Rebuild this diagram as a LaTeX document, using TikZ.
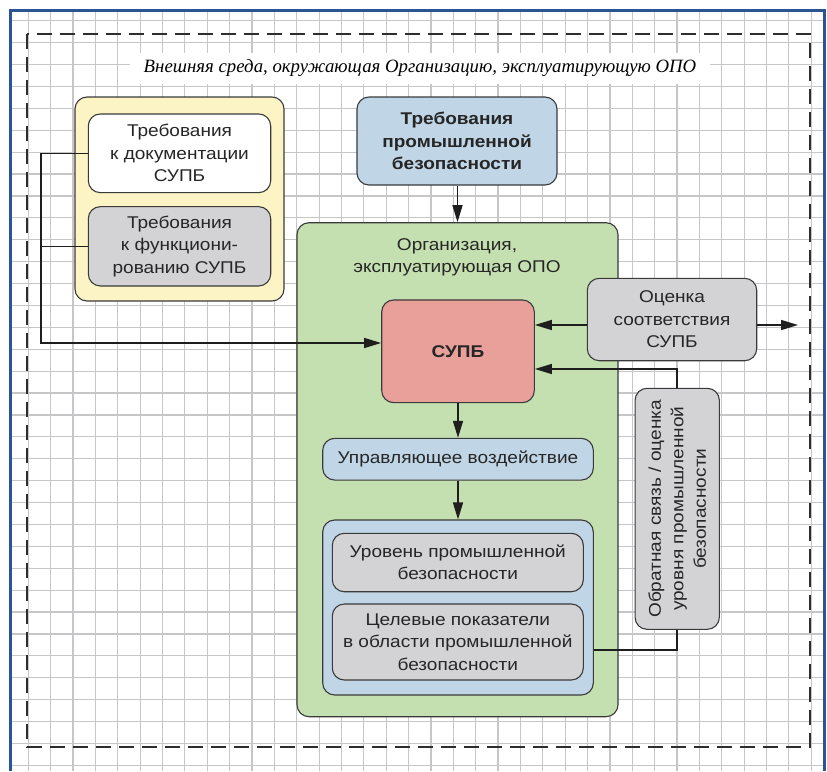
\documentclass[tikz,border=0pt]{standalone}
\usepackage{fontspec}
\setmainfont{Liberation Sans}[FakeStretch=1.12]
\newfontfamily\titlefont{Liberation Serif}
\usetikzlibrary{arrows.meta,calc}
\definecolor{framecol}{HTML}{2B5592}
\definecolor{gridcol}{HTML}{C6C6C8}
\definecolor{bordercol}{HTML}{3A3A3A}
\definecolor{yellowfill}{HTML}{FCF4C4}
\definecolor{greenfill}{HTML}{C5E0B0}
\definecolor{bluefill}{HTML}{C0D5E5}
\definecolor{grayfill}{HTML}{D3D3D6}
\definecolor{redfill}{HTML}{E9A09B}
\definecolor{linecol}{HTML}{1E1E1E}
\tikzset{
  boxst/.style={draw=bordercol, line width=1.1pt, rounded corners=12pt, inner sep=0pt},
  txt/.style={font=\fontsize{17}{22.5}\selectfont, align=center, text=black!85},
  conn/.style={draw=linecol, line width=1.5pt},
  arr/.style={conn, -{Triangle[length=17pt,width=10pt]}},
  dashline/.style={draw=black!82, line width=2pt, dash pattern=on 15pt off 8pt},
}
\begin{document}
\begin{tikzpicture}[x=1pt,y=-1pt]
\useasboundingbox (0,0) rectangle (827,771);
% grid
\begin{scope}
\clip (10,10) rectangle (824,771);
\foreach \i in {0,...,36} {
  \draw[gridcol, line width=1.2pt] ({28.3+\i*22.37},10) -- ({28.3+\i*22.37},771);
}
\foreach \j in {0,...,35} {
  \draw[gridcol, line width=1.2pt] (10,{20.7+\j*21.9}) -- (824,{20.7+\j*21.9});
}
\end{scope}
% frame
\draw[framecol, line width=3pt] (10,771) -- (10,10) -- (824,10) -- (824,771);
% dashed environment
\draw[dashline] (27,34) rectangle (810,747);
\node[fill=white, minimum width=580pt, minimum height=31pt, inner sep=0pt,
      font=\titlefont\itshape\fontsize{18.8}{21}\selectfont] (env) at (420,68.5)
  {Внешняя среда, окружающая Организацию, эксплуатирующую ОПО};

% left group
\node[boxst, fill=yellowfill, minimum width=209pt, minimum height=204pt] (grp) at (179.5,199) {};
\node[boxst, fill=white, minimum width=182.4pt, minimum height=78.7pt, txt] (doc) at (179.5,153.3)
  {Требования\\к документации\\СУПБ};
\node[boxst, fill=grayfill, minimum width=182.4pt, minimum height=79.3pt, txt] (func) at (179.5,246.3)
  {Требования\\к функциони-\\рованию СУПБ};

% requirements
\node[boxst, fill=bluefill, minimum width=200pt, minimum height=88pt, txt, font=\bfseries\fontsize{17}{22.5}\selectfont] (req) at (457,141)
  {Требования\\промышленной\\безопасности};

% organisation
\node[boxst, fill=greenfill, minimum width=321pt, minimum height=494pt] (org) at (457.5,469.7) {};
\node[txt] (orgt) at (457,257.5) {Организация,\\эксплуатирующая ОПО};

\node[boxst, fill=redfill, minimum width=152.6pt, minimum height=102.7pt, txt, font=\bfseries\fontsize{17}{22.5}\selectfont] (supb) at (458,351.3) {СУПБ};

\node[boxst, fill=grayfill, minimum width=169.4pt, minimum height=82.4pt, txt] (ocen) at (672,319.5)
  {Оценка\\соответствия\\СУПБ};

\node[boxst, fill=grayfill, minimum width=84.3pt, minimum height=241pt] (fb) at (677.2,508.8) {};
\node[txt, rotate=90] (fbt) at (fb.center) {Обратная связь / оценка\\уровня промышленной\\безопасности};

\node[boxst, fill=bluefill, minimum width=270.6pt, minimum height=41.7pt, txt] (upr) at (458,459.2)
  {Управляющее воздействие};

\node[boxst, fill=bluefill, minimum width=270.6pt, minimum height=175pt] (big) at (458,607.5) {};
\node[boxst, fill=grayfill, minimum width=251pt, minimum height=58.4pt, txt] (lvl) at (457.8,562.5)
  {Уровень промышленной\\безопасности};
\node[boxst, fill=grayfill, minimum width=251pt, minimum height=76pt, txt] (tgt) at (457.8,642)
  {Целевые показатели\\в области промышленной\\безопасности};

% connectors
\coordinate (lx) at (41,343);
\coordinate (ay) at (0,325);
\coordinate (outR) at (798,325);
\coordinate (fb1) at (0,369);
\coordinate (fb2) at (0,650);

\draw[arr] (req.south -| org.north) -- (org.north);
\draw[arr] (doc.west) -| (lx) -- (lx -| supb.west);
\draw[conn] (func.west) -- (func.west -| lx);
\draw[arr] (ocen.west |- ay) -- (supb.east |- ay);
\draw[arr] (ocen.east |- ay) -- (outR);
\draw[arr] (fb.north) |- (supb.east |- fb1);
\draw[conn] (fb.south) |- (big.east |- fb2);
\draw[arr] (supb.south) -- (upr.north);
\draw[arr] (upr.south) -- (big.north);
\end{tikzpicture}
\end{document}
